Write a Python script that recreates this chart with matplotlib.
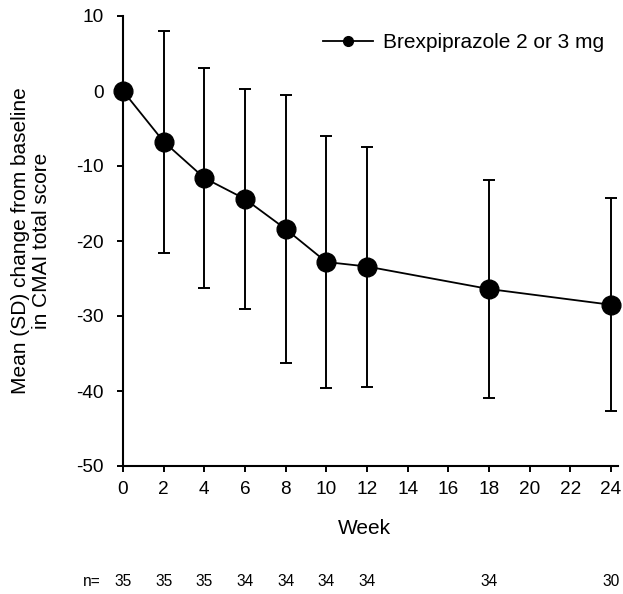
import matplotlib
matplotlib.use("Agg")
import matplotlib.pyplot as plt
from matplotlib.lines import Line2D
import matplotlib.transforms as mtransforms

plt.rcParams['font.family'] = ['Liberation Sans', 'DejaVu Sans']
plt.rcParams['axes.unicode_minus'] = False

weeks = [0, 2, 4, 6, 8, 10, 12, 18, 24]
mean_change = [0.0, -6.75, -11.6, -14.4, -18.4, -22.8, -23.4, -26.4, -28.5]
sd = [0.0, 14.8, 14.7, 14.7, 17.8, 16.8, 16.0, 14.5, 14.2]
n_values = [35, 35, 35, 34, 34, 34, 34, 34, 30]
xticks = list(range(0, 25, 2))
yticks = [10, 0, -10, -20, -30, -40, -50]
series_label = "Brexpiprazole 2 or 3 mg"

W, H = 623, 594
fig = plt.figure(figsize=(W / 100, H / 100), dpi=100)
ax = fig.add_axes([123 / W, 1 - 466 / H, 495 / W, 450 / H])

tick_fs = 13.7
label_fs = 15
ax.errorbar(weeks, mean_change, yerr=sd, color='black', marker='o',
            markersize=13.5, linewidth=1.3, elinewidth=1.4, capsize=4.3,
            capthick=1.4, zorder=3, clip_on=False)

ax.set_xlim(0, 24.35)
ax.set_ylim(-50, 10)
ax.set_xticks(xticks)
ax.set_yticks(yticks)
ax.tick_params(axis='both', direction='out', length=4.5, width=1.4,
               labelsize=tick_fs, color='black')
ax.tick_params(axis='x', pad=6)
ax.tick_params(axis='y', pad=9.5)
for s in ['top', 'right']:
    ax.spines[s].set_visible(False)
for s in ['left', 'bottom']:
    ax.spines[s].set_linewidth(1.5)

ax.set_xlabel("Week", fontsize=label_fs)
ax.xaxis.label.set_va('center')
ax.xaxis.set_label_coords((364 - 123) / 495, -(528 - 466) / 450)
ax.set_ylabel("Mean (SD) change from baseline\nin CMAI total score",
              fontsize=label_fs, linespacing=1.15)
ax.yaxis.label.set_va('center')
ax.yaxis.set_label_coords((31 - 123) / 495, 0.5)

handle = Line2D([], [], color='black', marker='o', markersize=7, linewidth=1.3)
fig.legend([handle], [series_label], loc='center left',
           bbox_to_anchor=(323 / W, 1 - 43 / H), frameon=False, fontsize=label_fs,
           borderpad=0, borderaxespad=0, handlelength=2.4, handletextpad=0.5)

trans = mtransforms.blended_transform_factory(ax.transData, fig.transFigure)
n_fs = 11.2
fig.text(92 / W, 1 - 581 / H, "n=", fontsize=n_fs, ha='center', va='center')
for w, n in zip(weeks, n_values):
    ax.text(w, 1 - 581 / H, str(n), transform=trans, fontsize=n_fs,
            ha='center', va='center')

fig.savefig("out.png", dpi=100)
